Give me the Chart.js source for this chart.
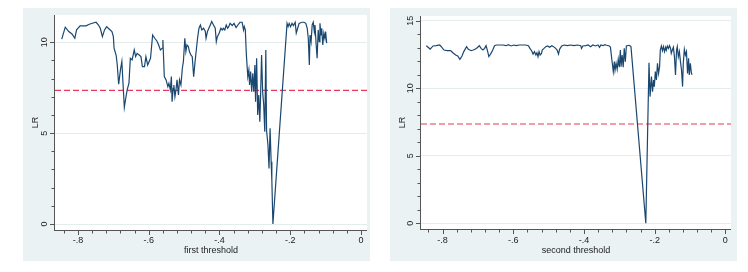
<!DOCTYPE html>
<html>
<head>
<meta charset="utf-8">
<script src="https://cdn.jsdelivr.net/npm/chart.js@4"></script>
<style>
body { margin: 0; background: #ffffff; width: 748px; height: 272px; position: relative; overflow: hidden; }
.painel { position: absolute; top: 8px; width: 347px; height: 253px; background: #eaf2f3; }
.painel canvas { display: block; }
</style>
</head>
<body>
<div class="painel" style="left:23px"><canvas id="grafico1" width="347" height="253"></canvas></div>
<div class="painel" style="left:390px"><canvas id="grafico2" width="347" height="253"></canvas></div>
<script>
// Dados do primeiro limiar
var limiar1 = [-0.846,-0.836,-0.826,-0.817,-0.809,-0.804,-0.794,-0.777,-0.768,-0.757,-0.749,-0.742,-0.737,-0.731,-0.725,-0.719,-0.712,-0.704,-0.700,-0.698,-0.692,-0.689,-0.685,-0.680,-0.676,-0.673,-0.669,-0.665,-0.661,-0.656,-0.652,-0.647,-0.641,-0.637,-0.633,-0.627,-0.622,-0.618,-0.612,-0.608,-0.603,-0.595,-0.589,-0.583,-0.577,-0.572,-0.567,-0.562,-0.560,-0.556,-0.551,-0.546,-0.543,-0.539,-0.536,-0.534,-0.531,-0.529,-0.526,-0.523,-0.520,-0.516,-0.513,-0.509,-0.505,-0.502,-0.498,-0.495,-0.492,-0.488,-0.485,-0.481,-0.477,-0.473,-0.469,-0.466,-0.462,-0.458,-0.454,-0.450,-0.445,-0.440,-0.438,-0.434,-0.430,-0.426,-0.422,-0.417,-0.412,-0.409,-0.406,-0.401,-0.396,-0.392,-0.389,-0.385,-0.381,-0.377,-0.374,-0.370,-0.364,-0.359,-0.353,-0.348,-0.342,-0.336,-0.332,-0.330,-0.327,-0.324,-0.320,-0.317,-0.315,-0.312,-0.309,-0.306,-0.303,-0.300,-0.298,-0.295,-0.292,-0.289,-0.286,-0.284,-0.281,-0.278,-0.275,-0.272,-0.269,-0.267,-0.263,-0.260,-0.257,-0.254,-0.252,-0.249,-0.209,-0.206,-0.203,-0.199,-0.195,-0.191,-0.186,-0.183,-0.179,-0.175,-0.167,-0.161,-0.156,-0.152,-0.149,-0.146,-0.144,-0.141,-0.138,-0.135,-0.132,-0.130,-0.127,-0.124,-0.121,-0.118,-0.116,-0.113,-0.111,-0.108,-0.105,-0.102,-0.100,-0.097];
var lr1 = [10.17,10.83,10.59,10.46,10.22,10.68,10.90,10.90,10.99,11.06,11.10,10.95,10.77,10.31,10.68,10.86,10.73,10.59,10.31,9.67,9.27,8.75,7.69,8.48,8.94,7.83,6.42,6.92,7.38,7.74,9.12,9.03,9.58,9.21,9.39,9.30,9.21,8.66,8.66,9.21,8.75,9.12,10.40,10.22,10.07,9.85,9.58,9.67,10.13,8.11,7.93,7.56,7.74,7.38,8.11,6.73,7.47,7.65,7.01,7.38,7.93,7.10,7.93,7.65,8.57,8.94,10.22,9.49,9.85,9.76,9.49,9.30,9.21,8.11,8.94,9.49,10.22,10.77,10.95,10.68,10.77,10.59,10.22,10.59,10.77,10.95,11.14,10.95,10.77,10.04,10.31,10.50,10.77,10.68,10.77,10.68,10.95,10.77,10.86,11.04,10.92,11.04,10.81,10.95,11.10,11.10,10.68,10.86,10.68,9.30,8.11,8.48,7.65,8.39,7.28,8.29,7.28,8.75,6.73,9.12,6.00,7.10,5.63,6.92,9.30,7.28,6.55,5.08,9.58,5.17,4.35,3.06,5.27,3.43,2.42,0,11.04,10.86,11.04,10.86,11.04,10.92,11.10,10.50,10.77,11.04,11.10,11.10,11.04,10.77,10.22,8.75,10.40,10.04,10.95,11.10,10.59,10.95,9.95,9.12,10.68,10.04,11.04,10.40,10.77,9.85,10.50,10.22,10.59,9.95];

// Dados do segundo limiar
var limiar2 = [-0.846,-0.841,-0.835,-0.827,-0.818,-0.808,-0.802,-0.796,-0.787,-0.777,-0.771,-0.763,-0.757,-0.751,-0.745,-0.740,-0.732,-0.727,-0.719,-0.713,-0.708,-0.702,-0.696,-0.691,-0.686,-0.681,-0.677,-0.673,-0.669,-0.663,-0.658,-0.653,-0.648,-0.639,-0.630,-0.620,-0.614,-0.606,-0.599,-0.592,-0.583,-0.574,-0.565,-0.557,-0.553,-0.548,-0.544,-0.540,-0.536,-0.533,-0.530,-0.527,-0.524,-0.520,-0.518,-0.513,-0.508,-0.503,-0.497,-0.491,-0.486,-0.480,-0.476,-0.472,-0.469,-0.463,-0.456,-0.447,-0.438,-0.428,-0.419,-0.409,-0.407,-0.403,-0.395,-0.388,-0.381,-0.375,-0.367,-0.360,-0.356,-0.352,-0.346,-0.341,-0.336,-0.328,-0.325,-0.321,-0.317,-0.314,-0.312,-0.309,-0.306,-0.303,-0.300,-0.297,-0.295,-0.292,-0.289,-0.286,-0.283,-0.280,-0.272,-0.267,-0.225,-0.216,-0.213,-0.209,-0.206,-0.203,-0.201,-0.198,-0.195,-0.192,-0.189,-0.186,-0.184,-0.181,-0.178,-0.175,-0.172,-0.169,-0.167,-0.164,-0.161,-0.158,-0.155,-0.153,-0.150,-0.147,-0.144,-0.141,-0.138,-0.136,-0.133,-0.130,-0.127,-0.124,-0.121,-0.119,-0.116,-0.113,-0.110,-0.107,-0.104,-0.102,-0.099,-0.096,-0.094];
var lr2 = [13.15,13.03,12.90,13.13,13.15,13.20,13.03,12.83,12.78,12.78,12.63,12.46,12.39,12.14,12.39,12.71,13.08,12.88,12.78,12.83,12.88,13.00,13.15,12.95,12.83,12.95,13.15,12.78,12.34,12.58,12.83,13.15,13.20,13.20,13.20,13.15,13.22,13.13,13.20,13.15,13.20,13.20,13.20,13.15,12.95,12.78,12.53,12.71,12.46,12.63,12.34,12.71,12.46,12.58,12.83,12.95,13.08,13.13,13.03,13.15,13.08,12.95,12.83,12.53,12.88,13.13,13.20,13.15,13.20,13.15,13.20,13.15,12.95,13.13,13.15,13.20,13.08,13.20,13.13,13.20,13.03,13.20,13.15,13.22,13.18,13.13,13.03,12.09,11.23,11.97,11.35,11.84,11.40,12.14,11.55,12.83,11.60,12.46,11.55,12.95,11.97,13.13,13.18,13.08,0,11.89,9.38,10.86,9.75,10.61,10.12,11.23,10.61,11.84,11.10,11.60,12.83,13.13,12.78,13.08,12.71,13.03,12.83,13.13,12.95,13.15,12.95,12.58,12.83,13.03,12.34,10.98,12.83,13.08,12.34,12.71,11.97,11.35,10.12,11.84,12.88,12.46,12.71,11.10,12.21,10.98,11.84,11.10,11.0];

// Valor critico (linha tracejada)
var valorCritico = 7.35;

// Rotulos dos eixos
var ticksX = [-0.8, -0.6, -0.4, -0.2, 0];
var rotulosX = ['-.8', '-.6', '-.4', '-.2', '0'];
var ticksY1 = [0, 5, 10];
var ticksY2 = [0, 5, 10, 15];

var corLinha = '#1a476f';
var corCritico = '#e8385f';
var corEixo = '#555555';
var corTexto = '#222222';
var fonte = '9px "Liberation Sans", Arial, sans-serif';

function juntar(xs, ys) {
    return xs.map(function (v, i) { return { x: v, y: ys[i] }; });
}

function passos(ini, fim, passo) {
    var r = [];
    for (var v = ini; v <= fim + 1e-9; v += passo) r.push(Math.round(v * 1000) / 1000);
    return r;
}

// Plugin que pinta a area branca, os tracos e os textos no estilo do Stata
var decoracao = {
    id: 'decoracao',
    beforeDraw: function (chart) {
        var a = chart.chartArea, ctx = chart.ctx;
        ctx.save();
        ctx.fillStyle = '#ffffff';
        ctx.fillRect(a.left, a.top, a.right - a.left, a.bottom - a.top);
        ctx.restore();
    },
    afterDraw: function (chart) {
        var o = chart.options.plugins.decoracao;
        var ctx = chart.ctx, a = chart.chartArea, sx = chart.scales.x, sy = chart.scales.y;
        ctx.save();
        ctx.strokeStyle = corEixo;
        ctx.lineWidth = 1;
        ctx.beginPath();
        // eixos
        ctx.moveTo(a.left, Math.round(a.bottom) + 0.5);
        ctx.lineTo(a.right, Math.round(a.bottom) + 0.5);
        ctx.moveTo(Math.round(a.left) - 0.5, a.top);
        ctx.lineTo(Math.round(a.left) - 0.5, a.bottom + 1);
        // tracos menores e maiores do eixo x
        passos(-0.84, 0, 0.04).forEach(function (v) {
            var p = Math.round(sx.getPixelForValue(v)) + 0.5;
            var len = ticksX.some(function (t) { return Math.abs(t - v) < 1e-6; }) ? 4 : 2.5;
            ctx.moveTo(p, a.bottom + 1);
            ctx.lineTo(p, a.bottom + 1 + len);
        });
        // tracos do eixo y
        passos(0, o.yMax, 1).forEach(function (v) {
            var p = Math.round(sy.getPixelForValue(v)) + 0.5;
            var len = (v % 5 === 0) ? 4 : 2.5;
            ctx.moveTo(a.left - 1, p);
            ctx.lineTo(a.left - 1 - len, p);
        });
        ctx.stroke();

        ctx.fillStyle = corTexto;
        ctx.font = fonte;
        ctx.textAlign = 'center';
        ctx.textBaseline = 'middle';
        ticksX.forEach(function (v, i) {
            ctx.fillText(rotulosX[i], sx.getPixelForValue(v), a.bottom + o.dRotuloX);
        });
        ctx.fillText(o.tituloX, (a.left + a.right) / 2, a.bottom + o.dTituloX);

        o.ticksY.forEach(function (v) {
            ctx.save();
            ctx.translate(a.left - o.dRotuloY, sy.getPixelForValue(v));
            ctx.rotate(-Math.PI / 2);
            ctx.fillText(String(v), 0, 0);
            ctx.restore();
        });
        ctx.save();
        ctx.translate(a.left - o.dTituloY, (a.top + a.bottom) / 2);
        ctx.rotate(-Math.PI / 2);
        ctx.fillText('LR', 0, 0);
        ctx.restore();
        ctx.restore();
    }
};

function criarGrafico(id, xs, ys, cfg) {
    var ctx = document.getElementById(id).getContext('2d');
    return new Chart(ctx, {
        type: 'scatter',
        data: {
            datasets: [{
                data: juntar(xs, ys),
                showLine: true,
                borderColor: corLinha,
                borderWidth: 1.2,
                pointRadius: 0,
                tension: 0
            }, {
                data: [{ x: cfg.xMin, y: valorCritico }, { x: cfg.xMax, y: valorCritico }],
                showLine: true,
                borderColor: corCritico,
                borderWidth: 1.2,
                borderDash: [6, 3],
                pointRadius: 0
            }]
        },
        options: {
            responsive: false,
            animation: false,
            layout: { padding: { top: cfg.pTop, right: cfg.pRight, left: 0, bottom: 0 } },
            plugins: {
                legend: { display: false },
                tooltip: { enabled: false },
                decoracao: {
                    tituloX: cfg.tituloX,
                    ticksY: cfg.ticksY,
                    yMax: cfg.ticksY[cfg.ticksY.length - 1],
                    dRotuloX: cfg.dRotuloX,
                    dTituloX: cfg.dTituloX,
                    dRotuloY: cfg.dRotuloY,
                    dTituloY: cfg.dTituloY
                }
            },
            scales: {
                x: {
                    type: 'linear',
                    min: cfg.xMin,
                    max: cfg.xMax,
                    ticks: { display: false },
                    grid: { display: false },
                    border: { display: false },
                    afterFit: function (s) { s.height = cfg.altX; }
                },
                y: {
                    min: cfg.yMin,
                    max: cfg.yMax,
                    ticks: { display: false },
                    grid: { color: '#e4ecee', lineWidth: 1, drawTicks: false },
                    border: { display: false },
                    afterBuildTicks: function (s) { s.ticks = cfg.ticksY.map(function (v) { return { value: v }; }); },
                    afterFit: function (s) { s.width = cfg.largY; }
                }
            }
        },
        plugins: [decoracao]
    });
}

var grafico1 = criarGrafico('grafico1', limiar1, lr1, {
    xMin: -0.865, xMax: 0.017, yMin: -0.33, yMax: 11.5,
    ticksY: ticksY1, tituloX: 'first threshold',
    pTop: 7, pRight: 3, largY: 32, altX: 31,
    dRotuloX: 10.7, dTituloX: 20.7, dRotuloY: 10.7, dTituloY: 19
});

var grafico2 = criarGrafico('grafico2', limiar2, lr2, {
    xMin: -0.861, xMax: 0.016, yMin: -0.43, yMax: 15.35,
    ticksY: ticksY2, tituloX: 'second threshold',
    pTop: 8, pRight: 6, largY: 31, altX: 32,
    dRotuloX: 11.5, dTituloX: 21.5, dRotuloY: 10.7, dTituloY: 18.7
});
</script>
</body>
</html>
